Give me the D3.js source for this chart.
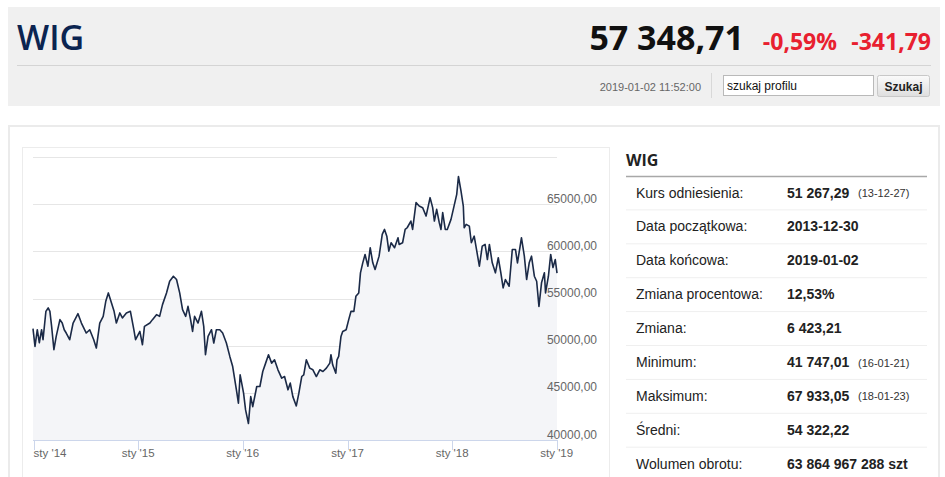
<!DOCTYPE html>
<meta charset="utf-8">
<style>
  body { margin: 0; background: #fff; overflow: hidden; }
  svg { display: block; }
  .lbl { font-family: "Liberation Sans", Arial, sans-serif; }
</style>
<body>
<script src="https://cdn.jsdelivr.net/npm/d3@7"></script>
<script>
// ---- data ----
var dates = ["2013-12-30","2014-01-06","2014-01-14","2014-01-21","2014-01-29","2014-02-03","2014-02-13","2014-02-21","2014-02-27","2014-03-05",
  "2014-03-13","2014-03-21","2014-04-03","2014-04-11","2014-04-18","2014-04-25","2014-05-07","2014-05-19","2014-06-05","2014-06-17",
  "2014-07-04","2014-07-16","2014-07-30","2014-08-08","2014-08-20","2014-09-01","2014-09-10","2014-09-19","2014-09-30","2014-10-09",
  "2014-10-17","2014-10-29","2014-11-07","2014-11-21","2014-12-05","2014-12-17","2014-12-23","2015-01-07","2015-01-16","2015-01-23",
  "2015-02-11","2015-02-20","2015-03-06","2015-03-17","2015-03-27","2015-04-10","2015-04-21","2015-05-04","2015-05-15","2015-05-26",
  "2015-06-05","2015-06-16","2015-06-24","2015-07-03","2015-07-10","2015-07-17","2015-07-29","2015-08-10","2015-08-18","2015-08-24",
  "2015-09-02","2015-09-14","2015-09-22","2015-10-01","2015-10-13","2015-10-23","2015-11-05","2015-11-17","2015-11-27","2015-12-10",
  "2015-12-17","2015-12-23","2016-01-04","2016-01-11","2016-01-21","2016-01-29","2016-02-05","2016-02-19","2016-03-01","2016-03-11",
  "2016-03-21","2016-03-31","2016-04-11","2016-04-21","2016-05-03","2016-05-16","2016-05-26","2016-06-07","2016-06-15","2016-06-24",
  "2016-07-06","2016-07-15","2016-07-25","2016-08-01","2016-08-10","2016-08-22","2016-09-02","2016-09-14","2016-09-26","2016-10-07",
  "2016-10-19","2016-10-31","2016-11-04","2016-11-10","2016-11-21","2016-11-25","2016-12-01","2016-12-09","2016-12-15","2016-12-27",
  "2017-01-05","2017-01-13","2017-01-23","2017-01-30","2017-02-09","2017-02-15","2017-02-23","2017-03-03","2017-03-13","2017-03-21",
  "2017-03-30","2017-04-07","2017-04-21","2017-05-02","2017-05-10","2017-05-18","2017-05-25","2017-06-02","2017-06-14","2017-06-26",
  "2017-06-30","2017-07-12","2017-07-21","2017-07-28","2017-08-10","2017-08-16","2017-08-28","2017-09-08","2017-09-20","2017-10-02",
  "2017-10-16","2017-10-25","2017-10-31","2017-11-08","2017-11-17","2017-11-23","2017-11-29","2017-12-08","2017-12-15","2017-12-28",
  "2018-01-05","2018-01-17","2018-01-23","2018-02-01","2018-02-09","2018-02-12","2018-02-19","2018-03-02","2018-03-09","2018-03-19",
  "2018-03-27","2018-04-06","2018-04-16","2018-04-26","2018-05-04","2018-05-11","2018-05-21","2018-06-01","2018-06-11","2018-06-20",
  "2018-06-28","2018-07-06","2018-07-19","2018-07-30","2018-08-10","2018-08-17","2018-08-31","2018-09-10","2018-09-18","2018-09-27",
  "2018-10-05","2018-10-15","2018-10-23","2018-10-31","2018-11-09","2018-11-19","2018-11-23","2018-12-03","2018-12-11","2018-12-19",
  "2018-12-27","2019-01-02"];

var values = [51800,49920,51690,50310,51690,50630,53640,54000,53640,52040,
  49570,50980,52760,52400,51690,51340,50630,52400,53390,52400,
  51340,51690,50630,49750,52400,53110,54700,55590,54530,53640,
  52400,53470,52940,53470,53640,51690,50630,51510,50100,52040,
  52400,52760,53290,53110,54350,55590,56830,57360,57010,55590,
  53820,53110,54170,52760,51510,53110,52400,53640,52040,49040,
  50980,51690,50280,51690,51690,51340,50280,48860,47790,45320,
  43900,46910,44960,43190,41747,44600,43540,45670,45670,47260,
  48150,49040,48150,48500,47440,46560,46730,45320,46030,44600,
  43610,44960,46730,46910,48500,47620,47440,46730,47440,47260,
  47620,48150,49040,47970,47090,48500,48860,50980,51510,51690,
  52760,53640,53640,55230,55590,57720,58780,59670,58420,60380,
  58780,58070,59490,61790,62320,61610,60020,60910,60380,61440,
  60730,60910,62320,62500,63210,62320,65160,64800,64630,63740,
  65690,64630,63210,64450,63040,62320,64100,62320,62320,63390,
  64450,66040,67933,66390,64800,62500,62860,62670,60910,61610,
  60200,58420,60550,60730,59130,60730,58780,57720,59320,57720,
  56130,57010,56300,60200,60200,58780,61440,59490,57010,58780,
  59490,57360,56830,54170,56660,57720,55590,57360,59670,58280,
  59130,57690.5];

var yTicks = [40000, 45000, 50000, 55000, 60000, 65000, 70000];
var xTickDates = ["2014-01-01","2015-01-01","2016-01-01","2017-01-01","2018-01-01","2019-01-01"];
var xTickLabels = ["sty '14","sty '15","sty '16","sty '17","sty '18","sty '19"];

var statLabels = ["Kurs odniesienia:","Data początkowa:","Data końcowa:","Zmiana procentowa:","Zmiana:","Minimum:","Maksimum:","Średni:","Wolumen obrotu:"];
var statValues = ["51 267,29","2013-12-30","2019-01-02","12,53%","6 423,21","41 747,01","67 933,05","54 322,22","63 864 967 288 szt"];
var statDates  = ["(13-12-27)","","","","","(16-01-21)","(18-01-23)","",""];

// ---- page ----
var parse = d3.timeParse("%Y-%m-%d");
var data = dates.map(function(d, i){ return {date: parse(d), value: values[i]}; });

var svg = d3.select("body").append("svg")
  .attr("width", 945)
  .attr("height", 477);

var defs = svg.append("defs");
var grad = defs.append("linearGradient").attr("id", "btn").attr("x1", 0).attr("y1", 0).attr("x2", 0).attr("y2", 1);
grad.append("stop").attr("offset", "0%").attr("stop-color", "#fbfbfb");
grad.append("stop").attr("offset", "100%").attr("stop-color", "#dedede");

// header box
svg.append("rect").attr("x", 8).attr("y", 7).attr("width", 932).attr("height", 99).attr("fill", "#f0f0f0");

svg.append("text").text("WIG")
  .attr("x", 17).attr("y", 49.5)
  .style("font-family", "'Open Sans'").style("font-weight", 600).style("font-size", "34px")
  .attr("fill", "#0b2450");

svg.append("text").text("57 348,71")
  .attr("x", 744).attr("y", 49.5).attr("text-anchor", "end")
  .style("font-family", "'Open Sans'").style("font-weight", 700).style("font-size", "34px")
  .attr("fill", "#111");

svg.append("text").text("-0,59%")
  .attr("x", 837).attr("y", 49.5).attr("text-anchor", "end")
  .style("font-family", "'Open Sans'").style("font-weight", 700).style("font-size", "23px")
  .attr("fill", "#e8202f");

svg.append("text").text("-341,79")
  .attr("x", 931).attr("y", 49.5).attr("text-anchor", "end")
  .style("font-family", "'Open Sans'").style("font-weight", 700).style("font-size", "23px")
  .attr("fill", "#e8202f");

svg.append("line").attr("x1", 17).attr("x2", 931).attr("y1", 65.5).attr("y2", 65.5)
  .attr("stroke", "#d4d4d4");

svg.append("text").text("2019-01-02 11:52:00").classed("lbl", true)
  .attr("x", 701).attr("y", 90.5).attr("text-anchor", "end")
  .style("font-size", "11px").attr("fill", "#666");

svg.append("line").attr("x1", 711.5).attr("x2", 711.5).attr("y1", 73).attr("y2", 98)
  .attr("stroke", "#d8d8d8");

svg.append("rect").attr("x", 723.5).attr("y", 75.5).attr("width", 150).attr("height", 20)
  .attr("fill", "#fff").attr("stroke", "#b9b9b9");
svg.append("text").text("szukaj profilu").classed("lbl", true)
  .attr("x", 727).attr("y", 89.5).style("font-size", "12px").attr("fill", "#111");

svg.append("rect").attr("x", 877.5).attr("y", 75.5).attr("width", 52).attr("height", 21).attr("rx", 2)
  .attr("fill", "url(#btn)").attr("stroke", "#c8c8c8");
svg.append("text").text("Szukaj").classed("lbl", true)
  .attr("x", 903.5).attr("y", 90.5).attr("text-anchor", "middle")
  .style("font-size", "12px").style("font-weight", "bold").attr("fill", "#222");

// main panel
svg.append("rect").attr("x", 9).attr("y", 126).attr("width", 930).attr("height", 360)
  .attr("fill", "#fff").attr("stroke", "#ebebeb").attr("stroke-width", 2);

svg.append("rect").attr("x", 22.5).attr("y", 147.5).attr("width", 587).attr("height", 340)
  .attr("fill", "#fff").attr("stroke", "#ececec");

// ---- chart ----
var x = d3.scaleTime()
  .domain([parse("2013-12-30"), parse("2019-01-02")])
  .range([33, 557]);

var y = d3.scaleLinear()
  .domain([40000, 70000])
  .range([440, 157]);

var fmt = d3.formatLocale({decimal: ",", thousands: "", grouping: [3], currency: ["", ""]}).format(".2f");

var chart = svg.append("g");

chart.selectAll(".grid")
  .data(yTicks.slice(1))
  .enter().append("line")
  .attr("x1", 33).attr("x2", 557)
  .attr("y1", function(d){ return Math.round(y(d)) + 0.5; })
  .attr("y2", function(d){ return Math.round(y(d)) + 0.5; })
  .attr("stroke", "#e6e6e6");

var area = d3.area()
  .x(function(d){ return x(d.date); })
  .y0(y(40000))
  .y1(function(d){ return y(d.value); });

var line = d3.line()
  .x(function(d){ return x(d.date); })
  .y(function(d){ return y(d.value); });

chart.append("path").datum(data)
  .attr("d", area)
  .attr("fill", "#f4f5f8");

chart.append("path").datum(data)
  .attr("d", line)
  .attr("fill", "none")
  .attr("stroke", "#1b2a47")
  .attr("stroke-width", 1.6)
  .attr("stroke-linejoin", "round");

// x axis line and ticks
chart.append("line")
  .attr("x1", 33).attr("x2", 557)
  .attr("y1", Math.round(y(40000)) + 0.5).attr("y2", Math.round(y(40000)) + 0.5)
  .attr("stroke", "#ccd6eb");

chart.selectAll(".xtick")
  .data(xTickDates)
  .enter().append("line")
  .attr("x1", function(d){ return Math.round(x(parse(d))) + 0.5; })
  .attr("x2", function(d){ return Math.round(x(parse(d))) + 0.5; })
  .attr("y1", y(40000)).attr("y2", y(40000) + 10)
  .attr("stroke", "#ccd6eb");

chart.selectAll(".xlab")
  .data(xTickDates)
  .enter().append("text")
  .classed("lbl", true)
  .text(function(d, i){ return xTickLabels[i]; })
  .attr("x", function(d){ return x(parse(d)); })
  .attr("y", 457)
  .attr("text-anchor", function(d, i){ return i == 0 ? "start" : "middle"; })
  .style("font-size", "11.5px")
  .attr("fill", "#666");

// y labels, sitting just above their gridline on the right
chart.selectAll(".ylab")
  .data(yTicks.slice(0, -1))
  .enter().append("text")
  .classed("lbl", true)
  .text(function(d){ return fmt(d); })
  .attr("x", 597)
  .attr("y", function(d){ return y(d) - 1.5; })
  .attr("text-anchor", "end")
  .style("font-size", "12px")
  .attr("fill", "#666");

// ---- stats table ----
svg.append("text").text("WIG")
  .attr("x", 626).attr("y", 165.5)
  .style("font-family", "'Open Sans'").style("font-weight", 700).style("font-size", "16px")
  .attr("fill", "#222");

svg.append("line").attr("x1", 626).attr("x2", 927).attr("y1", 176.5).attr("y2", 176.5)
  .attr("stroke", "#a8a8a8").attr("stroke-width", 1.5);

var rowH = 33.9, rowTop = 176;

var rows = svg.selectAll(".row")
  .data(statLabels)
  .enter().append("g")
  .attr("transform", function(d, i){ return "translate(0," + (rowTop + i * rowH) + ")"; });

rows.filter(function(d, i){ return i < statLabels.length - 1; })
  .append("line")
  .attr("x1", 626).attr("x2", 927)
  .attr("y1", rowH).attr("y2", rowH)
  .attr("stroke", "#efefef");

rows.append("text").classed("lbl", true)
  .text(function(d){ return d; })
  .attr("x", 636).attr("y", 21.5)
  .style("font-size", "14px").attr("fill", "#222");

rows.append("text").classed("lbl", true)
  .text(function(d, i){ return statValues[i]; })
  .attr("x", 787).attr("y", 21.5)
  .style("font-size", "14px").style("font-weight", "bold").attr("fill", "#222");

rows.append("text").classed("lbl", true)
  .text(function(d, i){ return statDates[i]; })
  .attr("x", 858).attr("y", 21)
  .style("font-size", "11px").attr("fill", "#333");
</script>
</body>
